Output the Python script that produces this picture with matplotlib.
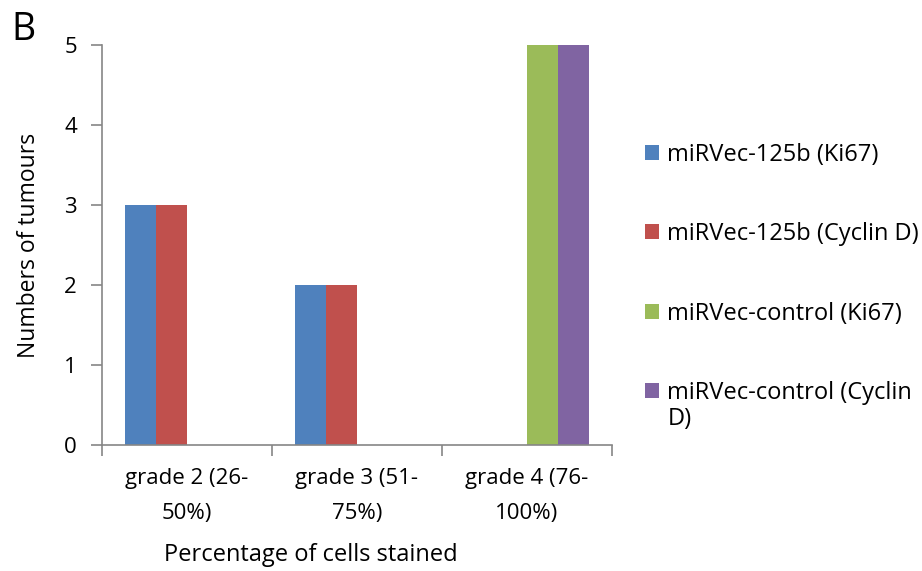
import matplotlib.pyplot as plt
import numpy as np

plt.rcParams['font.family'] = ['Open Sans', 'DejaVu Sans']

# === Data
categories = ["grade 2 (26-\n50%)", "grade 3 (51-\n75%)", "grade 4 (76-\n100%)"]
series_names = ["miRVec-125b (Ki67)", "miRVec-125b (Cyclin D)",
                "miRVec-control (Ki67)", "miRVec-control (Cyclin"]
ki67_125b = [3, 2, 0]
cyclin_125b = [3, 2, 0]
ki67_control = [0, 0, 5]
cyclin_control = [0, 0, 5]
colors = ["#4F81BD", "#C0504D", "#9BBB59", "#8064A2"]

fig = plt.figure(figsize=(9.22, 5.71), dpi=100)
ax = fig.add_axes([0.1106, 0.2207, 0.5532, 0.7005])

x = np.arange(len(categories))
width = 1 / 5.5  # Excel-style gap width 150%
all_series = [ki67_125b, cyclin_125b, ki67_control, cyclin_control]
handles = []
for i, vals in enumerate(all_series):
    h = ax.bar(x + (i - 1.5) * width, vals, width, color=colors[i], label=series_names[i])
    handles.append(h)

ax.set_xlim(-0.5, 2.5)
ax.set_ylim(0, 5)
ax.set_yticks(range(6))
# category boundaries get the tick marks, labels sit between them
ax.set_xticks(np.arange(-0.5, 3, 1))
ax.set_xticklabels([])
ax.tick_params(axis='x', length=8, color='#868686', width=1.2)
ax.tick_params(axis='y', length=8, color='#868686', width=1.2, labelsize=16, pad=10)
for xi, cat in zip(x, categories):
    ax.text(xi, -0.058, cat, transform=ax.get_xaxis_transform(), ha='center', va='top',
            fontsize=16, linespacing=1.88)

for s in ['top', 'right']:
    ax.spines[s].set_visible(False)
for s in ['left', 'bottom']:
    ax.spines[s].set_color('#868686')
    ax.spines[s].set_linewidth(1.2)

ax.set_ylabel("Numbers of tumours", fontsize=16.5)
ax.yaxis.set_label_coords(-0.12, 0.5)
ax.set_xlabel("Percentage of cells stained", fontsize=17)
ax.xaxis.set_label_coords(0.41, -0.245)

leg = fig.legend(handles=handles, loc='upper left', bbox_to_anchor=(0.6995, 0.75),
                 frameon=False, fontsize=17, handlelength=0.6, handleheight=0.6,
                 handletextpad=0.35, labelspacing=2.35, borderaxespad=0, borderpad=0)

# Excel wraps the last legend entry; put the rest of it on its own line
fig.canvas.draw()
bb = leg.get_texts()[3].get_window_extent().transformed(fig.transFigure.inverted())
fig.text(bb.x0, bb.y0 - 0.004, "D)", fontsize=17, va='top', ha='left')

fig.text(0.012, 0.93, "B", fontsize=27)

fig.savefig("out.png")
